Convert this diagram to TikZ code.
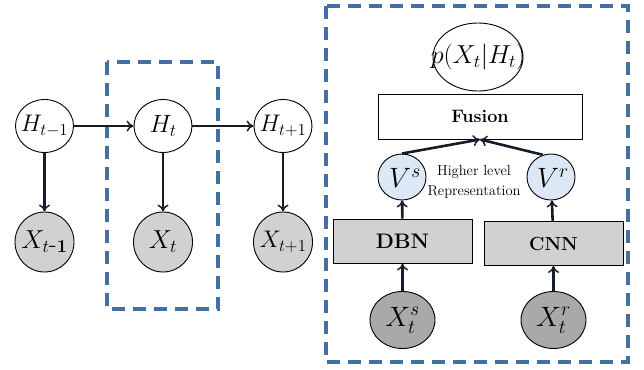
\RequirePackage{fix-cm}
\documentclass[tikz,border=0pt]{standalone}
\usetikzlibrary{arrows.meta,shapes.geometric}
\definecolor{dashblue}{RGB}{66,112,160}
\definecolor{arrowcol}{RGB}{22,28,40}
\definecolor{lgray}{RGB}{210,208,208}
\definecolor{dgray}{RGB}{170,168,168}
\definecolor{lblue}{RGB}{220,232,245}
\begin{document}
\begin{tikzpicture}[x=1pt,y=-1pt,
  hnode/.style={ellipse,draw,line width=0.9pt,fill=white,minimum width=58pt,minimum height=53pt,inner sep=0pt},
  xnode/.style={ellipse,draw,line width=0.9pt,fill=lgray,minimum width=59pt,minimum height=60pt,inner sep=0pt},
  xsnode/.style={ellipse,draw,line width=0.9pt,fill=dgray,minimum width=65pt,minimum height=57pt,inner sep=0pt},
  vnode/.style={ellipse,draw,line width=0.9pt,fill=lblue,minimum width=48pt,minimum height=46pt,inner sep=0pt},
  lbl/.style={inner sep=0pt},
  boxnode/.style={draw,line width=0.9pt,fill=lgray,minimum width=139pt,minimum height=44pt,inner sep=0pt,font=\fontsize{21}{22}\selectfont\bfseries},
  arr/.style={-{To[length=7pt,width=11pt,line width=1.5pt]},line width=2.6pt,color=arrowcol},
  dbox/.style={draw=dashblue,line width=3.6pt,dash pattern=on 13pt off 8pt}
]
\useasboundingbox (0,0) rectangle (644,369);
% dashed frames
\draw[dbox] (107,62) rectangle (218,309);
\draw[dbox] (326,6) rectangle (628,362);
% left chain
\node[hnode] (H1) at (44.5,126) {};
\node[hnode] (H2) at (163,126) {};
\node[hnode] (H3) at (283,126) {};
\node[xnode] (X1) at (44.5,242) {};
\node[xnode] (X2) at (163,242) {};
\node[xnode] (X3) at (283,242) {};
\node[lbl,font=\fontsize{24}{26}\selectfont] (H1t) at (H1) {$H_{t-1}$};
\node[lbl,font=\fontsize{25}{26}\selectfont] (H2t) at (H2) {$H_{t}$};
\node[lbl,font=\fontsize{24}{26}\selectfont] (H3t) at (H3) {$H_{t+1}$};
\node[lbl,font=\fontsize{26}{28}\selectfont] (X1t) at (X1) {$X_{t\mbox{-}\mathbf{1}}$};
\node[lbl,font=\fontsize{26}{28}\selectfont] (X2t) at (X2) {$X_{t}$};
\node[lbl,font=\fontsize{24}{28}\selectfont] (X3t) at (X3) {$X_{t+1}$};
\draw[arr] (H1) -- (H2);
\draw[arr] (H2) -- (H3);
\draw[arr] (H1) -- (X1);
\draw[arr] (H2) -- (X2);
\draw[arr] (H3) -- (X3);
% right part
\node[ellipse,draw,line width=0.9pt,minimum width=90pt,minimum height=68pt,inner sep=0pt] (P) at (478,57) {};
\node[lbl,font=\fontsize{26}{28}\selectfont] (Pt) at (P) {$p(X_t|H_t)$};
\node[draw,line width=0.9pt,fill=white,minimum width=204pt,minimum height=45pt,inner sep=0pt,font=\fontsize{18}{20}\selectfont\bfseries] (F) at (480,116.5) {Fusion};
\node[vnode] (Vs) at (402,177) {};
\node[vnode] (Vr) at (551,177) {};
\node[lbl,font=\fontsize{28}{30}\selectfont] (Vst) at (405,178) {$V^{s}$};
\node[lbl,font=\fontsize{28}{30}\selectfont] (Vrt) at (553,178) {$V^{r}$};
\node[align=center,font=\fontsize{14.5}{20}\selectfont,inner sep=0pt] (HL) at (474,182) {Higher level\\Representation};
\node[boxnode] (DBN) at (402.5,241) {DBN};
\node[boxnode,font=\fontsize{19}{20}\selectfont\bfseries] (CNN) at (553.5,243.5) {CNN};
\node[xsnode] (Xs) at (402.5,320) {};
\node[xsnode] (Xr) at (553.5,320) {};
\node[lbl,font=\fontsize{28}{30}\selectfont] (Xst) at (Xs) {$X_t^{s}$};
\node[lbl,font=\fontsize{28}{30}\selectfont] (Xrt) at (Xr) {$X_t^{r}$};
\draw[arr] (Vs.north) -- (F.south);
\draw[arr] (Vr.110) -- (F.south);
\draw[arr] (DBN) -- (Vs);
\draw[arr] (CNN) -- (Vr);
\draw[arr] (Xs) -- (DBN);
\draw[arr] (Xr) -- (CNN);
\end{tikzpicture}
\end{document}
